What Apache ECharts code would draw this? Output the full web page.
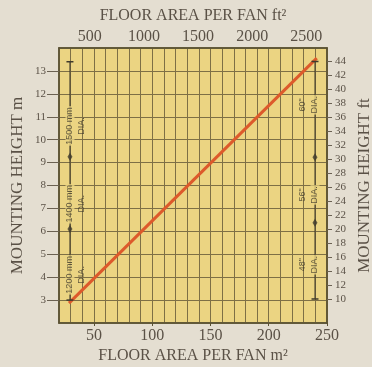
<!DOCTYPE html>
<html><head><meta charset="utf-8">
<script src="https://cdn.jsdelivr.net/npm/echarts@6/dist/echarts.min.js"></script>
<style>html,body{margin:0;padding:0;background:#e4ded1;}#c{width:372px;height:367px;}</style>
</head><body><div id="c"></div>
<script>
// ---- data ----
const areaM2 = [28.6, 241.2];          // floor area per fan, m²
const heightM = [2.87, 13.56];         // mounting height, m
const bottomTicks = [50, 100, 150, 200, 250];
const topTicks = [500, 1000, 1500, 2000, 2500];
const leftTicks = [3, 4, 5, 6, 7, 8, 9, 10, 11, 12, 13];
const rightTicks = [10, 12, 14, 16, 18, 20, 22, 24, 26, 28, 30, 32, 34, 36, 38, 40, 42, 44];
// metric diameter guide (left, metres)
const metricGuideX = 29.4;
const metricGuideEnds = [3.0, 13.4];
const metricGuideBreaks = [6.1, 9.25];
const metricLabels = ['1200 mm', '1400 mm', '1500 mm'];
const metricLabelY = [4.1, 7.2, 10.6];
// imperial diameter guide (right, feet)
const imperialGuideX = 239.7;
const imperialGuideEnds = [10, 44];
const imperialGuideBreaks = [20.9, 30.3];
const imperialLabels = ['48"', '56"', '60"'];
const imperialLabelY = [14.9, 24.9, 37.8];

const FT2_PER_M2 = 10.7639, FT_PER_M = 3.28084;
const X_MIN = 20, X_MAX = 250, Y_MIN = 2, Y_MAX = 14;

const serif = 'Liberation Serif';
const txt = '#5a5146';
const gridCol = '#7d6f45';
const fill = '#ebd482';
const ink = '#3f3a2c';
const frame = '#5a5132';

const chart = echarts.init(document.getElementById('c'), null, {renderer: 'canvas'});

const labelSeries = (xs, ys, texts, yIdx, mainFirst) => ({
  type: 'scatter', xAxisIndex: 0, yAxisIndex: yIdx, symbolSize: 0, z: 5,
  data: texts.map((t, i) => ({value: [xs, ys[i]], name: t})),
  label: {
    show: true, position: 'inside', rotate: 90, offset: mainFirst ? [0, 6] : [0, -6],
    formatter: p => mainFirst ? '{a|' + p.name + '}\n{b|DIA.}' : '{b|' + p.name + '}\n{a|DIA.}',
    rich: {
      a: {fontFamily: 'Liberation Sans', fontSize: 9, color: ink, backgroundColor: fill, lineHeight: 12, padding: [0, 1]},
      b: {fontFamily: 'Liberation Sans', fontSize: 9, color: ink, lineHeight: 12, padding: [0, 1]}
    }
  }
});

chart.setOption({
  animation: false,
  backgroundColor: '#e4ded1',
  grid: {left: 59, right: 45, top: 48, bottom: 44, outerBoundsMode: 'none', containLabel: false,
         show: true, backgroundColor: fill, borderColor: frame, borderWidth: 1.5},
  xAxis: [{
    type: 'value', position: 'bottom', min: X_MIN, max: X_MAX, interval: 10,
    name: 'FLOOR AREA PER FAN m²', nameLocation: 'middle', nameGap: 25, nameMoveOverlap: false,
    nameTextStyle: {fontFamily: serif, fontSize: 16, color: txt},
    axisLine: {show: true, lineStyle: {color: frame, width: 1.5}},
    axisTick: {show: false},
    axisLabel: {formatter: v => (v % 50 === 0 ? String(v) : ''), fontFamily: serif, fontSize: 16, color: txt, margin: 5},
    splitLine: {show: true, lineStyle: {color: gridCol, width: 1}}
  }, {
    type: 'value', position: 'top', min: X_MIN * FT2_PER_M2, max: X_MAX * FT2_PER_M2,
    name: 'FLOOR AREA PER FAN ft²', nameLocation: 'middle', nameGap: 24, nameMoveOverlap: false,
    nameTextStyle: {fontFamily: serif, fontSize: 16, color: txt},
    axisLine: {show: true, lineStyle: {color: frame, width: 1.5}},
    axisTick: {show: false},
    axisLabel: {customValues: topTicks, formatter: v => String(v), fontFamily: serif, fontSize: 16, color: txt, margin: 3},
    splitLine: {show: false}
  }, {
    type: 'value', position: 'bottom', min: X_MIN, max: X_MAX,
    axisLine: {show: false},
    axisTick: {show: true, customValues: bottomTicks, length: 3, lineStyle: {color: frame}},
    axisLabel: {show: false},
    splitLine: {show: false}
  }],
  yAxis: [{
    type: 'value', position: 'left', min: Y_MIN, max: Y_MAX, interval: 1,
    name: 'MOUNTING HEIGHT m', nameLocation: 'middle', nameGap: 33, nameMoveOverlap: false,
    nameTextStyle: {fontFamily: serif, fontSize: 17, color: txt},
    axisLine: {show: true, lineStyle: {color: frame, width: 1.5}},
    axisTick: {show: true, customValues: leftTicks, length: 12, lineStyle: {color: '#6a6152'}},
    axisLabel: {customValues: leftTicks, fontFamily: serif, fontSize: 11, color: txt, margin: 13},
    splitLine: {show: true, lineStyle: {color: gridCol, width: 1}}
  }, {
    type: 'value', position: 'right', min: Y_MIN * FT_PER_M, max: Y_MAX * FT_PER_M,
    name: 'MOUNTING HEIGHT ft', nameLocation: 'middle', nameGap: 29, nameMoveOverlap: false,
    nameTextStyle: {fontFamily: serif, fontSize: 17, color: txt},
    axisLine: {show: true, lineStyle: {color: frame, width: 1.5}},
    axisTick: {show: true, customValues: rightTicks, length: 5, lineStyle: {color: '#6a6152'}},
    axisLabel: {customValues: rightTicks, fontFamily: serif, fontSize: 11, color: txt, margin: 8},
    splitLine: {show: false}
  }],
  series: [
    {type: 'line', xAxisIndex: 0, yAxisIndex: 0, z: 3, symbol: 'none',
     lineStyle: {color: '#dd5a2b', width: 3},
     data: areaM2.map((x, i) => [x, heightM[i]])},
    {type: 'line', xAxisIndex: 0, yAxisIndex: 0, z: 4, symbol: 'rect', symbolSize: [7, 1.5],
     itemStyle: {color: ink}, lineStyle: {color: ink, width: 1},
     data: metricGuideEnds.map(y => [metricGuideX, y])},
    {type: 'line', xAxisIndex: 0, yAxisIndex: 1, z: 4, symbol: 'rect', symbolSize: [7, 1.5],
     itemStyle: {color: ink}, lineStyle: {color: ink, width: 1},
     data: imperialGuideEnds.map(y => [imperialGuideX, y])},
    {type: 'scatter', xAxisIndex: 0, yAxisIndex: 0, z: 6, symbol: 'diamond', symbolSize: [5, 8],
     itemStyle: {color: ink}, data: metricGuideBreaks.map(y => [metricGuideX, y])},
    {type: 'scatter', xAxisIndex: 0, yAxisIndex: 1, z: 6, symbol: 'diamond', symbolSize: [5, 8],
     itemStyle: {color: ink}, data: imperialGuideBreaks.map(y => [imperialGuideX, y])},
    labelSeries(metricGuideX, metricLabelY, metricLabels, 0, true),
    labelSeries(imperialGuideX, imperialLabelY, imperialLabels, 1, false)
  ]
});
</script>
</body></html>
